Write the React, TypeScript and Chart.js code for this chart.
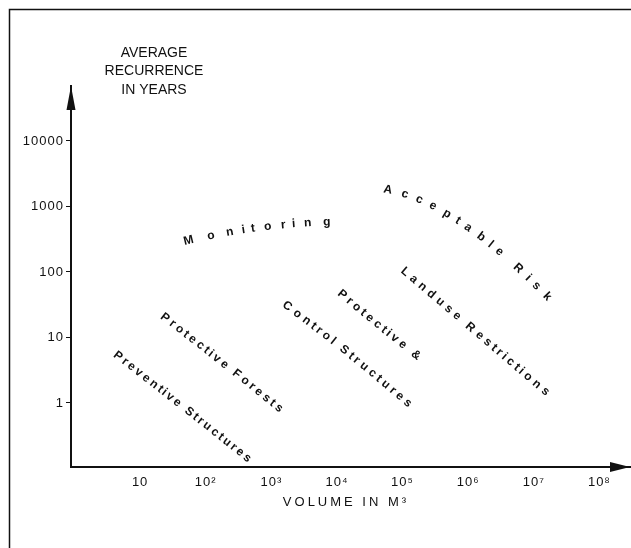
import React, { useEffect, useRef } from "react";
import { Chart, registerables } from "chart.js";

Chart.register(...registerables);

const W = 631;
const H = 548;
const INK = "#111111";
const FONT = "'Liberation Sans', Arial, sans-serif";

// axis ticks
const yTickValues = [1, 10, 100, 1000, 10000];
const yTickLabels = ["1", "10", "100", "1000", "10000"];
const xTickValues = [1e1, 1e2, 1e3, 1e4, 1e5, 1e6, 1e7, 1e8];
const xTickLabels = ["10", "10²", "10³", "10⁴", "10⁵", "10⁶", "10⁷", "10⁸"];
const yRange = [0.1054, 69000];
const xRange = [0.884, 2.93e8];

// titles
const yTitleLines = ["AVERAGE", "RECURRENCE", "IN YEARS"];
const xTitle = "VOLUME IN M³";

// lettered zones: start / middle / end of each label (volume m³, recurrence years)
const zoneNames = [
  "Monitoring",
  "Acceptable Risk",
  "Landuse Restrictions",
  "Protective &",
  "Control Structures",
  "Protective Forests",
  "Preventive Structures",
];
const zoneStartVolume = [55, 6e4, 1.1e5, 1.2e4, 1750, 24, 4.6];
const zoneStartYears = [300, 1800, 100, 45, 30, 20, 5.2];
const zoneMidVolume = [600, 8e5, 1.2e6, 4.3e4, 1.35e4, 175, 45];
const zoneMidYears = [470, 560, 13, 15.5, 6.2, 4.2, 0.87];
const zoneEndVolume = [7000, 1.6e7, 1.5e7, 1.6e5, 1.2e5, 1300, 430];
const zoneEndYears = [580, 42, 1.5, 5.4, 1, 0.84, 0.145];

type P = { x: number; y: number };

function drawAlong(ctx: CanvasRenderingContext2D, text: string, p0: P, p1: P, p2: P) {
  const c = { x: 2 * p1.x - (p0.x + p2.x) / 2, y: 2 * p1.y - (p0.y + p2.y) / 2 };
  const N = 400;
  const pts: P[] = [];
  const cum: number[] = [0];
  for (let i = 0; i <= N; i++) {
    const t = i / N;
    const a = (1 - t) * (1 - t);
    const b = 2 * (1 - t) * t;
    const d = t * t;
    pts.push({ x: a * p0.x + b * c.x + d * p2.x, y: a * p0.y + b * c.y + d * p2.y });
    if (i > 0) {
      cum.push(cum[i - 1] + Math.hypot(pts[i].x - pts[i - 1].x, pts[i].y - pts[i - 1].y));
    }
  }
  const L = cum[N];
  const chars = Array.from(text);
  const widths = chars.map((ch) => ctx.measureText(ch).width);
  const centers: number[] = [];
  let acc = 0;
  widths.forEach((w) => {
    centers.push(acc + w / 2);
    acc += w;
  });
  const span = centers[centers.length - 1] - centers[0];
  chars.forEach((ch, i) => {
    if (ch === " ") return;
    const s = ((centers[i] - centers[0]) / span) * L;
    let k = 1;
    while (k < N && cum[k] < s) k++;
    const seg = cum[k] - cum[k - 1];
    const f = seg ? Math.min(1, Math.max(0, (s - cum[k - 1]) / seg)) : 0;
    const x = pts[k - 1].x + f * (pts[k].x - pts[k - 1].x);
    const y = pts[k - 1].y + f * (pts[k].y - pts[k - 1].y);
    const ang = Math.atan2(pts[k].y - pts[k - 1].y, pts[k].x - pts[k - 1].x);
    ctx.save();
    ctx.translate(x, y);
    ctx.rotate(ang);
    ctx.fillText(ch, 0, 0);
    ctx.restore();
  });
}

const figurePlugin = {
  id: "figure",
  beforeDraw(chart: any) {
    (chart.ctx as any).letterSpacing = "1px";
  },
  afterDraw(chart: any) {
    const { ctx, chartArea, scales } = chart;
    const xs = scales.x;
    const ys = scales.y;
    ctx.save();
    (ctx as any).letterSpacing = "0px";
    ctx.strokeStyle = INK;
    ctx.fillStyle = INK;

    // frame of the figure
    ctx.lineWidth = 1.5;
    ctx.beginPath();
    ctx.moveTo(9.5, H);
    ctx.lineTo(9.5, 9.5);
    ctx.lineTo(W, 9.5);
    ctx.stroke();

    // arrow heads
    const ax = chartArea.left;
    const ay = chartArea.bottom;
    ctx.beginPath();
    ctx.moveTo(ax, chartArea.top);
    ctx.lineTo(ax - 4.5, chartArea.top + 24);
    ctx.lineTo(ax + 4.5, chartArea.top + 24);
    ctx.closePath();
    ctx.fill();
    ctx.beginPath();
    ctx.moveTo(chartArea.right, ay);
    ctx.lineTo(chartArea.right - 20, ay - 5);
    ctx.lineTo(chartArea.right - 20, ay + 5);
    ctx.closePath();
    ctx.fill();

    // y title
    ctx.font = `14px ${FONT}`;
    ctx.textAlign = "center";
    ctx.textBaseline = "middle";
    yTitleLines.forEach((t, i) => ctx.fillText(t, 154, 53 + i * 18.5));

    // x title
    ctx.font = `13px ${FONT}`;
    (ctx as any).letterSpacing = "3px";
    ctx.fillText(xTitle, 346, 502);
    (ctx as any).letterSpacing = "0px";

    // zone labels
    ctx.font = `bold 12px ${FONT}`;
    zoneNames.forEach((name, i) => {
      const p0 = { x: xs.getPixelForValue(zoneStartVolume[i]), y: ys.getPixelForValue(zoneStartYears[i]) };
      const p1 = { x: xs.getPixelForValue(zoneMidVolume[i]), y: ys.getPixelForValue(zoneMidYears[i]) };
      const p2 = { x: xs.getPixelForValue(zoneEndVolume[i]), y: ys.getPixelForValue(zoneEndYears[i]) };
      drawAlong(ctx, name, p0, p1, p2);
    });
    ctx.restore();
  },
};

export default function App() {
  const ref = useRef<HTMLCanvasElement | null>(null);
  useEffect(() => {
    document.body.style.margin = "0";
    document.documentElement.style.overflow = "hidden";
    const canvas = ref.current!;
    const chart = new Chart(canvas, {
      type: "scatter",
      data: { datasets: [] },
      plugins: [figurePlugin],
      options: {
        responsive: false,
        animation: false,
        devicePixelRatio: 1,
        layout: { padding: { top: 86, right: 1, left: 0, bottom: 0 } },
        plugins: { legend: { display: false }, tooltip: { enabled: false } },
        scales: {
          x: {
            type: "logarithmic",
            position: "bottom",
            min: xRange[0],
            max: xRange[1],
            grid: { display: false, drawTicks: false },
            border: { display: true, color: INK, width: 2 },
            afterFit: (s: any) => {
              s.height = H - 467;
            },
            afterBuildTicks: (s: any) => {
              s.ticks = xTickValues.map((v) => ({ value: v }));
            },
            ticks: {
              autoSkip: false,
              maxRotation: 0,
              padding: 8,
              color: INK,
              font: { family: FONT, size: 13 },
              callback: (_v: any, i: number) => xTickLabels[i],
            },
          },
          y: {
            type: "logarithmic",
            position: "left",
            min: yRange[0],
            max: yRange[1],
            grid: { display: true, drawOnChartArea: false, drawTicks: true, tickLength: 5, color: INK, lineWidth: 1 },
            border: { display: true, color: INK, width: 2 },
            afterFit: (s: any) => {
              s.width = 71;
            },
            afterBuildTicks: (s: any) => {
              s.ticks = yTickValues.map((v) => ({ value: v }));
            },
            ticks: {
              autoSkip: false,
              padding: 2,
              color: INK,
              font: { family: FONT, size: 13 },
              callback: (_v: any, i: number) => yTickLabels[i],
            },
          },
        },
      },
    });
    return () => chart.destroy();
  }, []);
  return <canvas ref={ref} width={W} height={H} style={{ display: "block", width: W, height: H }} />;
}
